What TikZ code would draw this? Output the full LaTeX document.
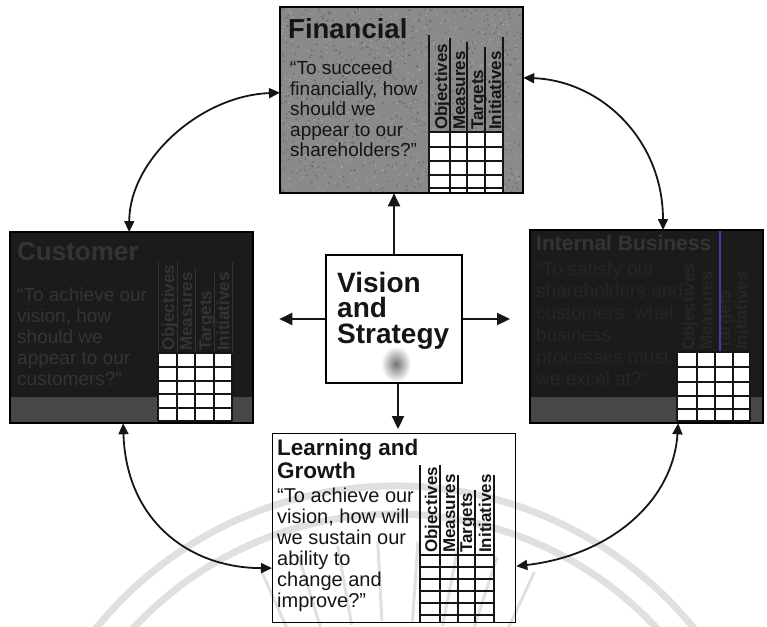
\documentclass[tikz,border=0pt]{standalone}
\usepackage{fontspec}
\setmainfont{Liberation Sans}
\usetikzlibrary{arrows.meta,calc}

\definecolor{fingray}{HTML}{8A8A8A}
\definecolor{darkpanel}{HTML}{1B1B1B}
\definecolor{panelband}{HTML}{474747}
\definecolor{ghostA}{HTML}{343434}
\definecolor{ghostB}{HTML}{262626}
\definecolor{sealgray}{HTML}{E0E0E0}
\definecolor{ink}{HTML}{151515}
\definecolor{scanblue}{HTML}{3B3FA8}

\tikzset{
  panel/.style={rectangle, draw=black, line width=1.3pt, inner sep=0pt, anchor=north west},
  gridline/.style={draw=ink, line width=1.2pt},
  spoke/.style={draw=ink, line width=2.2pt, -{Triangle[length=13pt,width=12pt]}},
  link/.style={draw=ink, line width=1.8pt, {Triangle[length=11pt,width=10pt]}-{Triangle[length=11pt,width=10pt]}},
  headline/.style={anchor=base west, inner sep=0pt, font=\bfseries\fontsize{#1}{#1}\selectfont},
  quotetext/.style={anchor=north west, inner sep=0pt, align=left},
  colhead/.style={rotate=90, anchor=base west, inner sep=0pt, font=\bfseries\fontsize{17}{17}\selectfont},
}

\begin{document}
\begin{tikzpicture}[x=1pt,y=-1pt]
\useasboundingbox (0,0) rectangle (767,626);

% faint seal printed behind the chart
\begin{scope}
  \clip (0,0) rectangle (767,626);
  \draw[sealgray, line width=7pt] (395,871) ++(210:385) arc[start angle=210, end angle=330, radius=385];
  \draw[sealgray, line width=7pt] (395,871) ++(215:357) arc[start angle=215, end angle=325, radius=357];
  \foreach \a in {246,253,...,295}
    \draw[sealgray, line width=3pt] (395,871) ++(\a:250) -- ++(\a:80);
\end{scope}

% ---------- Financial ----------
\node[panel, fill=fingray, minimum width=242pt, minimum height=185pt] (fin) at (280,7) {};
\begin{scope}
  \clip (280,7) rectangle (522,192);
  \pgfmathsetseed{11}
  \foreach \k in {1,...,700}
    \fill[black, opacity=0.2] ({280+242*rnd},{7+185*rnd}) circle (1pt);
  \foreach \k in {1,...,500}
    \fill[white, opacity=0.22] ({280+242*rnd},{7+185*rnd}) circle (0.9pt);
\end{scope}
\draw[line width=1.3pt] (fin.north west) rectangle (fin.south east);
\node[headline=27.5, text=ink] (finT) at (288,39) {Financial};
\node[quotetext, text=ink, font=\fontsize{19}{20.5}\selectfont] (finQ) at (290,61)
  {“To succeed\\financially, how\\should we\\appear to our\\shareholders?”};
\fill[white] (429,132) rectangle (503,192);
\foreach \x/\t in {429/35,450/38,467/42,485/47,503/37}
  \draw[gridline] (\x,\t) -- (\x,192);
\foreach \y in {132,147,161,175,188}
  \draw[gridline] (429,\y) -- (503,\y);
\node[colhead, text=ink] (finH1) at (447,130) {Objectives};
\node[colhead, text=ink] (finH2) at (465,130) {Measures};
\node[colhead, text=ink] (finH3) at (483,130) {Targets};
\node[colhead, text=ink] (finH4) at (501,130) {Initiatives};

% ---------- Customer ----------
\node[panel, fill=darkpanel, minimum width=242pt, minimum height=190pt] (cust) at (10,232) {};
\fill[panelband] (10,397) rectangle (252,422);
\draw[line width=1.3pt] (cust.north west) rectangle (cust.south east);
\node[headline=26, text=ghostA] (custT) at (17,260) {Customer};
\node[quotetext, text=ghostA, font=\fontsize{19}{21}\selectfont] (custQ) at (17,288)
  {“To achieve our\\vision, how\\should we\\appear to our\\customers?”};
\foreach \x/\t in {158/262,177/262,195/268,214/272,232/262}
  \draw[ghostA, line width=1pt] (\x,\t) -- (\x,353);
\node[colhead, text=ghostA] (custH1) at (174,351) {Objectives};
\node[colhead, text=ghostA] (custH2) at (192,351) {Measures};
\node[colhead, text=ghostA] (custH3) at (211,351) {Targets};
\node[colhead, text=ghostA] (custH4) at (229,351) {Initiatives};
\fill[white] (158,353) rectangle (232,421);
\foreach \x in {158,177,195,214,232}
  \draw[gridline] (\x,353) -- (\x,421);
\foreach \y in {353,367,381,394,408,421}
  \draw[gridline] (158,\y) -- (232,\y);

% ---------- Internal Business ----------
\node[panel, fill=darkpanel, minimum width=232pt, minimum height=192pt] (intl) at (530,230) {};
\fill[panelband] (530,397) rectangle (762,422);
\draw[line width=1.3pt] (intl.north west) rectangle (intl.south east);
\node[headline=21, text=ghostA] (intlT) at (536,250) {Internal Business};
\node[quotetext, text=ghostB, font=\fontsize{19}{22}\selectfont] (intlQ) at (536,262)
  {“To satisfy our\\shareholders and\\customers, what\\business\\processes must\\we excel at?”};
\node[colhead, text=ghostB] (intlH1) at (694,350) {Objectives};
\node[colhead, text=ghostB] (intlH2) at (712,350) {Measures};
\node[colhead, text=ghostB] (intlH3) at (730,350) {Targets};
\node[colhead, text=ghostB] (intlH4) at (747,350) {Initiatives};
\draw[scanblue, line width=2pt] (720,231) -- (720,352);
\fill[white] (677,352) rectangle (750,421);
\foreach \x in {677,697,715,733,750}
  \draw[gridline] (\x,352) -- (\x,421);
\foreach \y in {352,367,382,396,409,421}
  \draw[gridline] (677,\y) -- (750,\y);

% ---------- Vision and Strategy ----------
\node[panel, fill=white, line width=2pt, minimum width=136pt, minimum height=128pt] (vis) at (325,254) {};
\shade[inner color=black!55, outer color=white] (396,364) ellipse [x radius=15, y radius=18];
\node[quotetext, text=ink, font=\bfseries\fontsize{28}{25.5}\selectfont] (visT) at (337,272)
  {Vision\\and\\Strategy};

% ---------- Learning and Growth ----------
\node[panel, minimum width=243pt, minimum height=189pt] (learn) at (272,433) {};
\node[quotetext, text=ink, font=\bfseries\fontsize{22.5}{23}\selectfont] (learnT) at (277,439)
  {Learning and\\Growth};
\node[quotetext, text=ink, font=\fontsize{20}{21}\selectfont] (learnQ) at (277,487.6)
  {“To achieve our\\vision, how will\\we sustain our\\ability to\\change and\\improve?”};
\foreach \x/\t in {420/465,440/465,458/475,475/490,494/475}
  \draw[gridline] (\x,\t) -- (\x,622);
\foreach \y in {555,567,579,591,603,615}
  \draw[gridline] (420,\y) -- (494,\y);
\node[colhead, text=ink] (learnH1) at (437,553) {Objectives};
\node[colhead, text=ink] (learnH2) at (455,553) {Measures};
\node[colhead, text=ink] (learnH3) at (472,553) {Targets};
\node[colhead, text=ink] (learnH4) at (491,553) {Initiatives};

% ---------- spokes from the centre ----------
\draw[spoke] (vis.north) -- (vis.north |- fin.south);
\draw[spoke, shorten >=26pt] (vis.west) -- (vis.west -| cust.east);
\draw[spoke, shorten >=20pt] (vis.east) -- (vis.east -| intl.west);
\draw[spoke, shorten >=4pt] ([xshift=4pt]vis.south) -- ([xshift=4pt]vis.south |- learn.north);

% ---------- links around the ring ----------
\coordinate (finL) at ($(fin.north west)!0.46!(fin.south west)$);
\coordinate (finR) at ($(fin.north east)!0.38!(fin.south east)$);
\coordinate (custN) at ($(cust.north west)!0.49!(cust.north east)$);
\coordinate (custS) at ($(cust.south west)!0.465!(cust.south east)$);
\coordinate (intlN) at ($(intl.north west)!0.57!(intl.north east)$);
\coordinate (intlS) at ($(intl.south west)!0.635!(intl.south east)$);
\coordinate (learnW) at ($(learn.north west)!0.71!(learn.south west)$);
\coordinate (learnE) at ($(learn.north east)!0.70!(learn.south east)$);

\draw[link] (finL) .. controls +(-80,3) and +(0,-72) .. (custN);
\draw[link] (finR) .. controls +(78,3) and +(0,-90) .. (intlN);
\draw[link] (custS) .. controls +(3,98) and +(-82,0) .. (learnW);
\draw[link] (intlS) .. controls +(-5,78) and +(94,-11) .. (learnE);

\end{tikzpicture}
\end{document}
